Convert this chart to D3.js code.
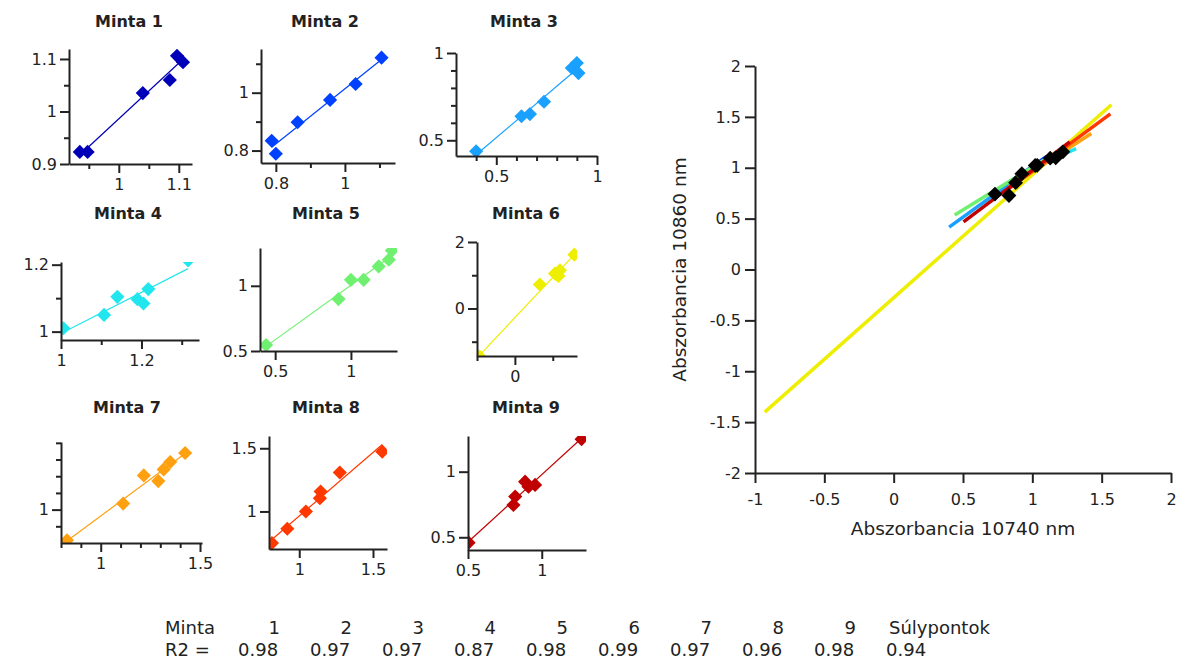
<!DOCTYPE html>
<html><head><meta charset="utf-8">
<script src="https://cdn.jsdelivr.net/npm/d3@7"></script>
<style>
body{margin:0;background:#fff}
svg{display:block}
text{font-family:"DejaVu Sans",sans-serif;fill:#222}
</style>
</head><body>
<svg id="chart" width="1182" height="664"></svg>
<script>
// ---------- data ----------
const sampleNames = ["Minta 1","Minta 2","Minta 3","Minta 4","Minta 5","Minta 6","Minta 7","Minta 8","Minta 9"];
const sampleColors = ["#0000b8","#0040ff","#1aa0ff","#22e6ee","#70f070","#eeee00","#ffa010","#ff3800","#c00000"];
const x1 = [0.935,0.948,1.040,1.085,1.097,1.107];
const y1 = [0.923,0.923,1.035,1.060,1.106,1.094];
const x2 = [0.788,0.800,0.863,0.957,1.031,1.106];
const y2 = [0.834,0.789,0.898,0.975,1.030,1.121];
const x3 = [0.400,0.625,0.667,0.737,0.875,0.900,0.908];
const y3 = [0.437,0.638,0.650,0.721,0.914,0.943,0.885];
const x4 = [1.006,1.107,1.140,1.190,1.205,1.217,1.316];
const y4 = [1.010,1.050,1.104,1.097,1.084,1.127,1.213];
const x5 = [0.440,0.918,1.000,1.084,1.183,1.250,1.270];
const y5 = [0.546,0.898,1.046,1.046,1.149,1.200,1.270];
const x6 = [-0.93,0.66,1.06,1.12,1.15,1.19,1.57];
const y6 = [-1.45,0.72,1.05,1.02,0.98,1.15,1.62];
const x7 = [0.830,1.113,1.217,1.290,1.317,1.350,1.425];
const y7 = [0.816,1.036,1.205,1.171,1.241,1.285,1.339];
const x8 = [0.815,0.919,1.045,1.140,1.145,1.275,1.563];
const y8 = [0.750,0.863,1.000,1.105,1.158,1.308,1.473];
const x9 = [0.504,0.808,0.820,0.887,0.910,0.955,1.270];
const y9 = [0.459,0.746,0.810,0.924,0.886,0.899,1.248];
const xSeries = [x1,x2,x3,x4,x5,x6,x7,x8,x9];
const ySeries = [y1,y2,y3,y4,y5,y6,y7,y8,y9];

// axis domains and ticks of the small panels
const xDomains = [[0.917,1.122],[0.757,1.145],[0.3,1.0],[1.0,1.343],[0.4,1.304],[-1,1.64],[0.8,1.51],[0.795,1.595],[0.5,1.3]];
const yDomains = [[0.9,1.119],[0.757,1.151],[0.41,1.0],[0.975,1.208],[0.5,1.29],[-1.43,2],[0.8,1.405],[0.703,1.597],[0.403,1.272]];
const xMajorTicks = [[1,1.1],[0.8,1],[0.5,1],[1,1.2],[0.5,1],[0],[1,1.5],[1,1.5],[0.5,1]];
const xMinorTicks = [[0.95,1.05],[0.9,1.1],[0.4,0.6,0.7,0.8,0.9],[1.1,1.3],[],[-1,1],[0.8,0.9,1.1,1.2,1.3,1.4],[],[]];
const yMajorTicks = [[0.9,1,1.1],[0.8,1],[0.5,1],[1,1.2],[0.5,1],[0,2],[1],[1,1.5],[0.5,1]];
const yMinorTicks = [[0.95,1.05],[0.9,1.1],[0.6,0.7,0.8,0.9],[1.1],[],[-1,1],[0.9,1.1,1.2,1.3,1.4],[],[]];

// big panel
const bigXDomain = [-1,2];
const bigYDomain = [-2,2];
const bigXTicks = [-1,-0.5,0,0.5,1,1.5,2];
const bigYTicks = [-2,-1.5,-1,-0.5,0,0.5,1,1.5,2];
const bigXTitle = "Abszorbancia 10740 nm";
const bigYTitle = "Abszorbancia 10860 nm";

// table
const tableRowLabels = ["Minta","R2 ="];
const tableNumbers = ["1","2","3","4","5","6","7","8","9"];
const tableCentroidLabel = "Súlypontok";
const r2Values = ["0.98","0.97","0.97","0.87","0.98","0.99","0.97","0.96","0.98","0.94"];

// ---------- layout ----------
const boxes = [
  {l:69,r:192,t:49,b:164, tx:129, ty:27},
  {l:261,r:395,t:49,b:163, tx:325, ty:27},
  {l:456,r:597,t:53,b:156, tx:524, ty:27},
  {l:61,r:199,t:262,b:340, tx:128, ty:219},
  {l:260,r:397,t:248,b:351, tx:326, ty:219},
  {l:477,r:577,t:242,b:356, tx:526, ty:219},
  {l:61,r:202,t:442,b:543, tx:127, ty:413},
  {l:269,r:387,t:436,b:549, tx:326, ty:413},
  {l:468,r:586,t:436,b:550, tx:526, ty:413}
];
const big = {l:755,r:1171,t:66,b:473};
const ink = "#222";

const svg = d3.select("#chart");
const fmt0 = d3.format("~g");
const fmt = d => fmt0(d).replace("\u2212","-");

function fit(xs, ys){
  const mx = d3.mean(xs), my = d3.mean(ys);
  let sxy=0, sxx=0;
  xs.forEach((x,i)=>{ sxy += (x-mx)*(ys[i]-my); sxx += (x-mx)*(x-mx); });
  const b = sxy/sxx;
  return {b, a: my - b*mx, mx, my};
}
function styleAxis(sel, fs){
  sel.select(".domain").attr("stroke", ink).attr("stroke-width", 2);
  sel.selectAll(".tick line").attr("stroke", ink).attr("stroke-width", 2);
  sel.selectAll(".tick text").attr("fill", ink).style("font-family","'DejaVu Sans',sans-serif").style("font-size", fs+"px");
}
const diamond = d3.symbol(d3.symbolSquare, 100);

// ---------- small panels ----------
boxes.forEach((p, i) => {
  const g = svg.append("g");
  const xs = d3.scaleLinear().domain(xDomains[i]).range([p.l, p.r]);
  const ys = d3.scaleLinear().domain(yDomains[i]).range([p.b, p.t]);
  const cid = "clip"+i;
  svg.append("clipPath").attr("id", cid).append("rect")
    .attr("x", p.l).attr("y", p.t).attr("width", p.r-p.l).attr("height", p.b-p.t);
  const X = xSeries[i], Y = ySeries[i];
  const f = fit(X, Y);
  const xmin = d3.min(X), xmax = d3.max(X);
  const plot = g.append("g").attr("clip-path", `url(#${cid})`);
  plot.append("line")
    .attr("x1", xs(xmin)).attr("y1", ys(f.a+f.b*xmin))
    .attr("x2", xs(xmax)).attr("y2", ys(f.a+f.b*xmax))
    .attr("stroke", sampleColors[i]).attr("stroke-width", 1.2);
  plot.selectAll("path.m").data(X.map((x,k)=>[x,Y[k]])).join("path")
    .attr("d", diamond)
    .attr("transform", d => `translate(${xs(d[0])},${ys(d[1])}) rotate(45)`)
    .attr("fill", sampleColors[i]);

  // minor ticks
  g.append("g").attr("transform", `translate(0,${p.b})`)
    .call(d3.axisBottom(xs).tickValues(xMinorTicks[i]).tickSize(5).tickSizeOuter(0).tickFormat(""))
    .call(s => { s.select(".domain").remove(); styleAxis(s, 16); });
  g.append("g").attr("transform", `translate(${p.l},0)`)
    .call(d3.axisLeft(ys).tickValues(yMinorTicks[i]).tickSize(5).tickSizeOuter(0).tickFormat(""))
    .call(s => { s.select(".domain").remove(); styleAxis(s, 16); });
  // major ticks
  g.append("g").attr("transform", `translate(0,${p.b})`)
    .call(d3.axisBottom(xs).tickValues(xMajorTicks[i]).tickSize(9).tickSizeOuter(0).tickPadding(6).tickFormat(fmt))
    .call(s => styleAxis(s, 16));
  g.append("g").attr("transform", `translate(${p.l},0)`)
    .call(d3.axisLeft(ys).tickValues(yMajorTicks[i]).tickSize(9).tickSizeOuter(0).tickPadding(3).tickFormat(fmt))
    .call(s => styleAxis(s, 16));

  g.append("text").attr("x", p.tx).attr("y", p.ty).attr("text-anchor","middle")
    .style("font-size","16px").style("font-weight","bold").attr("fill","#2a2a2a").text(sampleNames[i]);
});

// ---------- big panel ----------
const bx = d3.scaleLinear().domain(bigXDomain).range([big.l, big.r]);
const by = d3.scaleLinear().domain(bigYDomain).range([big.b, big.t]);
const bg = svg.append("g");
const fits = xSeries.map((X,i)=>fit(X, ySeries[i]));
xSeries.forEach((X,i)=>{
  const f = fits[i];
  const xmin = d3.min(X), xmax = d3.max(X);
  bg.append("line")
    .attr("x1", bx(xmin)).attr("y1", by(f.a+f.b*xmin))
    .attr("x2", bx(xmax)).attr("y2", by(f.a+f.b*xmax))
    .attr("stroke", sampleColors[i]).attr("stroke-width", 3.5);
});
bg.selectAll("path.c").data(fits).join("path")
  .attr("d", d3.symbol(d3.symbolSquare, 110))
  .attr("transform", d => `translate(${bx(d.mx)},${by(d.my)}) rotate(45)`)
  .attr("fill", "#000");

bg.append("g").attr("transform", `translate(0,${big.b})`)
  .call(d3.axisBottom(bx).tickValues(bigXTicks).tickSize(10).tickSizeOuter(0).tickPadding(11).tickFormat(fmt))
  .call(s => styleAxis(s, 16));
bg.append("g").attr("transform", `translate(${big.l},0)`)
  .call(d3.axisLeft(by).tickValues(bigYTicks).tickSize(10).tickSizeOuter(0).tickPadding(4).tickFormat(fmt))
  .call(s => styleAxis(s, 16));
bg.append("text").attr("x", (big.l+big.r)/2).attr("y", big.b+62).attr("text-anchor","middle")
  .style("font-size","18.5px").text(bigXTitle);
bg.append("text").attr("transform", `translate(${big.l-69},${(big.t+big.b)/2}) rotate(-90)`)
  .attr("text-anchor","middle").style("font-size","18.5px").text(bigYTitle);

// ---------- table ----------
const col = d3.scaleLinear().domain([0,1]).range([238,310]);
const tg = svg.append("g").style("font-size","18px");
tg.append("text").attr("x",165).attr("y",634).text(tableRowLabels[0]);
tg.append("text").attr("x",165).attr("y",656).text(tableRowLabels[1]);
tg.selectAll("text.n").data(tableNumbers).join("text").attr("class","n")
  .attr("x",(d,i)=>col(i)+42).attr("y",634).attr("text-anchor","end").text(d=>d);
tg.append("text").attr("x", col(9)+3).attr("y",634).text(tableCentroidLabel);
tg.selectAll("text.r").data(r2Values).join("text").attr("class","r")
  .attr("x",(d,i)=>col(i)).attr("y",656).text(d=>d);
</script>
</body></html>
